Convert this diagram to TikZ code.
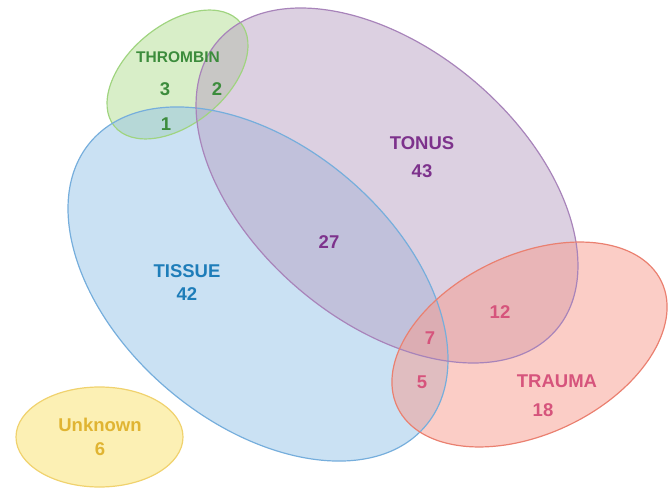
\documentclass[tikz,border=0pt]{standalone}
\usepackage{fontspec}
\setmainfont{Liberation Sans}
\definecolor{gfill}{RGB}{177,221,145}
\definecolor{gline}{RGB}{160,212,128}
\definecolor{gtext}{RGB}{60,140,60}
\definecolor{pfill}{RGB}{185,161,195}
\definecolor{pline}{RGB}{168,132,186}
\definecolor{ptext}{RGB}{125,50,140}
\definecolor{bfill}{RGB}{149,195,231}
\definecolor{bline}{RGB}{118,174,220}
\definecolor{btext}{RGB}{30,125,185}
\definecolor{rfill}{RGB}{247,155,141}
\definecolor{rline}{RGB}{234,128,112}
\definecolor{rtext}{RGB}{214,84,124}
\definecolor{yfill}{RGB}{252,240,180}
\definecolor{yline}{RGB}{240,210,110}
\definecolor{ytext}{RGB}{224,180,50}
\tikzset{
  setfill/.style={fill=#1, fill opacity=0.5},
  setline/.style={draw=#1, line width=1.2pt},
  lab/.style={font=\fontsize{18.5}{20}\selectfont\bfseries, inner sep=0pt},
  smalllab/.style={font=\fontsize{15.5}{17}\selectfont\bfseries, inner sep=0pt},
}
\begin{document}
\begin{tikzpicture}[x=1pt,y=1pt]
\useasboundingbox (0,0) rectangle (672,488);
% fills
\fill[setfill=gfill, shift={(177.5,413.5)}, rotate=39.4] (0,0) ellipse [x radius=81.6pt, y radius=49.6pt];
\fill[setfill=bfill, shift={(258,204)}, rotate=-40.3] (0,0) ellipse [x radius=219.6pt, y radius=138.6pt];
\fill[setfill=pfill, shift={(387,302.5)}, rotate=-40.4] (0,0) ellipse [x radius=222.4pt, y radius=136pt];
\fill[setfill=rfill, shift={(529.5,143.5)}, rotate=25.4] (0,0) ellipse [x radius=146.2pt, y radius=89.7pt];
\fill[yfill, draw=yline, line width=1.2pt] (99.5,51) ellipse [x radius=83.5pt, y radius=50pt];
% outlines
\draw[setline=gline, shift={(177.5,413.5)}, rotate=39.4] (0,0) ellipse [x radius=81.6pt, y radius=49.6pt];
\draw[setline=bline, shift={(258,204)}, rotate=-40.3] (0,0) ellipse [x radius=219.6pt, y radius=138.6pt];
\draw[setline=pline, shift={(387,302.5)}, rotate=-40.4] (0,0) ellipse [x radius=222.4pt, y radius=136pt];
\draw[setline=rline, shift={(529.5,143.5)}, rotate=25.4] (0,0) ellipse [x radius=146.2pt, y radius=89.7pt];
% labels
\node[smalllab, text=gtext] (thrombin) at (178,431) {THROMBIN};
\node[lab, text=gtext] (t3) at (165,399) {3};
\node[lab, text=gtext] (t2) at (217,399) {2};
\node[lab, text=gtext] (t1) at (166,364) {1};
\node[lab, text=ptext] (tonus) at (422,345) {TONUS};
\node[lab, text=ptext] (n43) at (422,317) {43};
\node[lab, text=ptext] (n27) at (329,246) {27};
\node[lab, text=btext] (tissue) at (187,217) {TISSUE};
\node[lab, text=btext] (n42) at (187,194) {42};
\node[lab, text=rtext] (n12) at (500,176) {12};
\node[lab, text=rtext] (n7) at (430,150) {7};
\node[lab, text=rtext] (n5) at (422,106) {5};
\node[lab, text=rtext] (trauma) at (557,107) {TRAUMA};
\node[lab, text=rtext] (n18) at (543,78) {18};
\node[lab, text=ytext] (unknown) at (100,63) {Unknown};
\node[lab, text=ytext] (n6) at (100,39) {6};
\end{tikzpicture}
\end{document}
